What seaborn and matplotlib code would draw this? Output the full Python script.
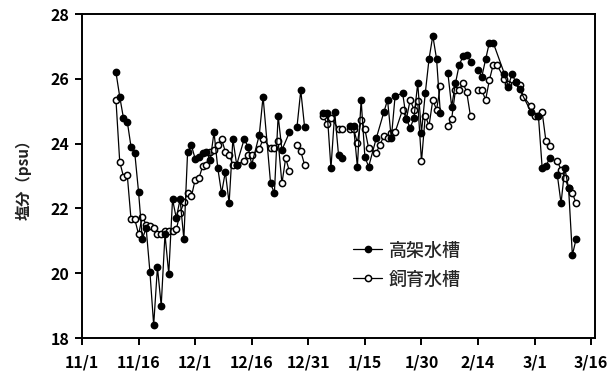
import numpy as np
import pandas as pd
import matplotlib
matplotlib.use("Agg")
import matplotlib.pyplot as plt
from matplotlib.lines import Line2D
import seaborn as sns

# Days counted from 11/1; NaN marks a break in the record
tick_days = [0, 15, 30, 45, 60, 75, 90, 105, 120, 135]
tick_labels = ["11/1", "11/16", "12/1", "12/16", "12/31", "1/15", "1/30", "2/14", "3/1", "3/16"]

nan = np.nan

elevated_days = [9, 10, 11, 12, 13, 14, 15, 16, 17, 18, 19, 20, 21, 22, 23, 24, 25, 26, 27, 28,
                 29, 30, 31, 32, 33, 34, 35, 36, 37, 38, 39, 40, 41, 43, 44, 45, 47, 48, 50, 51,
                 52, 53, 55, 56, 57, 58, 59, 60, 64, 65, 66, 67, 68, 69, 70, 71, 72, 73, 74, 75,
                 76, 78, 80, 81, 82, 83, 85, 86, 87, 88, 89, 90, 91, 92, 93, 94, 95, 96, 97, 98,
                 99, 100, 101, 102, 103, 104, 105, 106, 107, 108, 109, 112, 113, 114, 115, 116,
                 119, 121, 122, 123, 124, 125, 126, 127, 128, 129, 130, 131]
elevated_psu = [26.2, 25.45, 24.78, 24.68, 23.9, 23.7, 22.5, 21.05, 21.4, 20.05, 18.4, 20.18, 19.0,
                21.2, 19.98, 22.28, 21.7, 22.28, 21.06, 23.75,
                23.95, 23.53, 23.6, 23.7, 23.75, 23.49, 24.35, 23.24, 22.47, 23.13, 22.16, 24.14,
                23.35, 24.14, 23.91, 23.35, 24.27, 25.45, 22.77, 22.47,
                24.86, 23.8, 24.35, nan, 24.52, 25.64, 24.52, nan, 24.95, 24.95, 23.24, 24.96,
                23.66, 23.55, nan, 24.53, 24.53, 23.29, 25.35, 23.58,
                23.29, 24.16, 24.96, 25.35, 24.16, 25.46, 25.56, 24.76, 24.48, 24.79, 25.86, 24.34,
                25.55, 26.61, 27.33, 26.61, 24.94, nan, 26.17, 25.14,
                25.86, 26.43, 26.69, 26.74, 26.53, nan, 26.27, 26.07, 26.6, 27.12, 27.12, 26.15,
                25.76, 26.15, 25.9, 25.68,
                24.99, 24.85, 23.24, 23.31, 23.55, nan, 23.04, 22.16, 23.24, 22.62, 20.56, 21.06]

rearing_days = [9, 10, 11, 12, 13, 14, 15, 16, 17, 18, 19, 20, 21, 22, 23, 24, 25, 26, 27, 28,
                29, 30, 31, 32, 33, 34, 35, 36, 37, 38, 39, 40, 41, 43, 44, 45, 47, 48, 50, 51,
                52, 53, 54, 55, 56, 57, 58, 59, 60, 64, 65, 66, 68, 69, 70, 71, 72, 73, 74, 75,
                76, 78, 79, 80, 81, 82, 83, 85, 86, 87, 88, 89, 90, 91, 92, 93, 94, 95, 96, 97,
                98, 99, 100, 101, 102, 103, 104, 105, 106, 107, 108, 109, 110, 112, 113, 115,
                116, 117, 119, 120, 121, 122, 123, 124, 125, 126, 127, 128, 129, 130, 131]
rearing_psu = [25.35, 23.44, 22.98, 23.03, 21.66, 21.66, 21.2, 21.75, 21.5, 21.45, 21.4, 21.2, 21.2,
               21.3, 21.3, 21.3, 21.35, 21.85, 22.19, 22.47,
               22.37, 22.88, 22.93, 23.31, 23.35, 23.75, 23.8, 23.96, 24.14, 23.75, 23.65, 23.35,
               23.35, 23.47, 23.65, 23.65, 23.83, 24.14, 23.86, 23.86,
               24.07, 22.77, 23.55, 23.14, nan, 23.96, 23.76, 23.35, nan, 24.84, 24.6, 24.8,
               24.45, 24.45, nan, 24.45, 24.45, 24.03, 24.73, 24.44,
               23.85, 23.72, 23.96, 24.23, 24.16, 24.33, 24.35, 25.05, 24.76, 25.35, 25.05, 25.3,
               23.45, 24.86, 24.55, 25.35, 25.04, 25.77, nan, 24.55,
               24.76, 25.65, 25.65, 25.88, 25.58, 24.84, nan, 25.65, 25.65, 25.35, 25.96, 26.43,
               26.43, 26.0, 25.85, 25.9,
               25.8, 25.45, 25.16, 24.85, 24.85, 24.96, 24.07, 23.93, nan, 23.45, 23.2, 22.95,
               22.62, 22.47, 22.16]

series_names = ["高架水槽", "飼育水槽"]


def to_frame(days, values, name):
    df = pd.DataFrame({"day": days, "psu": values})
    df["seg"] = df["psu"].isna().cumsum()
    df["series"] = name
    return df.dropna()


elevated = to_frame(elevated_days, elevated_psu, series_names[0])
rearing = to_frame(rearing_days, rearing_psu, series_names[1])

sns.set_style("ticks")
plt.rcParams["font.family"] = ["Noto Sans CJK JP", "DejaVu Sans"]

fig = plt.figure(figsize=(6.11, 3.78), dpi=100)
ax = fig.add_axes([82 / 611, 1 - 338 / 378, (595 - 82) / 611, (338 - 14) / 378])

line_kw = dict(x="day", y="psu", units="seg", estimator=None, color="black",
               linewidth=0.9, marker="o", markersize=4.5, markeredgecolor="black",
               markeredgewidth=1.1, legend=False, ax=ax)
sns.lineplot(data=rearing, markerfacecolor="white", **line_kw)
sns.lineplot(data=elevated, markerfacecolor="black", **line_kw)

ax.set_xlim(0, 136)
ax.set_ylim(18, 28)
ax.set_xticks(tick_days)
ax.set_xticklabels(tick_labels)
ax.set_yticks(np.arange(18, 29, 2))
ax.set_xlabel("")
ax.set_ylabel("塩分（psu）", fontsize=11, fontweight="bold", color="#222222", labelpad=14)

for side in ["left", "bottom", "top", "right"]:
    ax.spines[side].set_visible(True)
    ax.spines[side].set_linewidth(1.4)
    ax.spines[side].set_color("black")
ax.tick_params(axis="both", direction="out", length=5, width=1.4, labelsize=11.5,
               colors="black", top=False, right=False)
ax.tick_params(axis="x", pad=7)
ax.tick_params(axis="y", pad=4)
for lbl in ax.get_xticklabels() + ax.get_yticklabels():
    lbl.set_fontweight("bold")

handles = [
    Line2D([], [], color="black", linewidth=0.9, marker="o", markersize=4.5,
           markerfacecolor="black", markeredgecolor="black"),
    Line2D([], [], color="black", linewidth=0.9, marker="o", markersize=4.5,
           markerfacecolor="white", markeredgecolor="black", markeredgewidth=1.1),
]
ax.legend(handles, series_names, loc="center left", bbox_to_anchor=(0.515, 0.225),
          frameon=False, fontsize=13, handlelength=1.6, handletextpad=0.35,
          labelspacing=0.62, borderaxespad=0,
          prop={"family": ["Noto Sans CJK JP", "DejaVu Sans"], "size": 13, "weight": "medium"})

fig.savefig("out.png", dpi=100)
